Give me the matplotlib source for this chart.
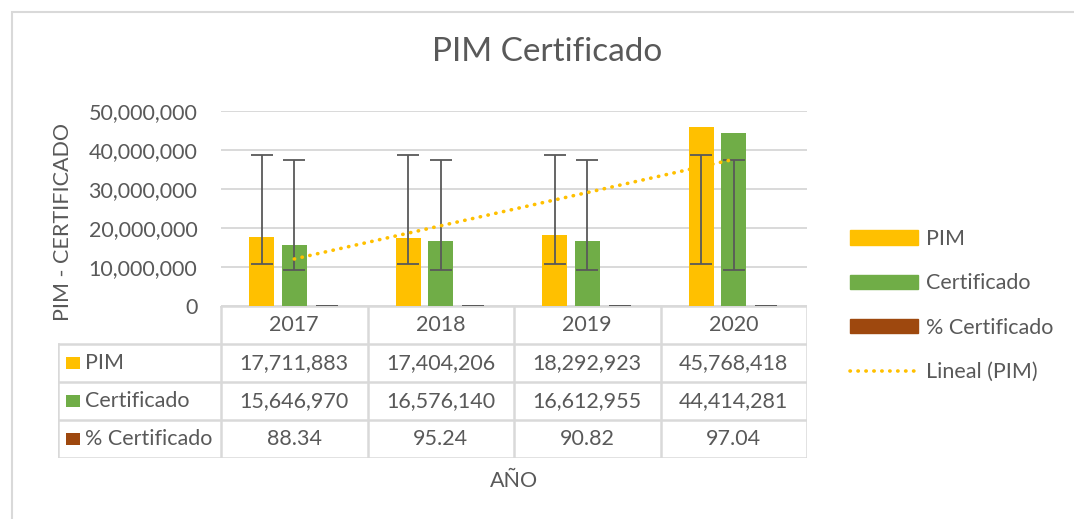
import numpy as np
import matplotlib
matplotlib.use("Agg")
import matplotlib.pyplot as plt
from matplotlib.patches import Rectangle, Patch
from matplotlib.lines import Line2D
from matplotlib.ticker import FuncFormatter

# Data
years = ["2017", "2018", "2019", "2020"]
pim = [17711883, 17404206, 18292923, 45768418]
certificado = [15646970, 16576140, 16612955, 44414281]
pct_certificado = [88.34, 95.24, 90.82, 97.04]
series_names = ["PIM", "Certificado", "% Certificado"]
pct_labels = ["88.34", "95.24", "90.82", "97.04"]

COLORS = ["#FFC000", "#70AD47", "#9E480E"]
TXT = "#595959"
GRID = "#D9D9D9"
FONT = "Lato"
DOTS = (0, (0.1, 2.1))

W, H = 1074, 519
plt.rcParams["font.family"] = [FONT, "DejaVu Sans"]


def fx(x):
    return x / W


def fy(y):
    return 1 - y / H


fig = plt.figure(figsize=(W / 100, H / 100), dpi=100)

# outer chart frame (cut off on right and bottom in the reference)
fig.patches.append(Rectangle((fx(12), -0.1), 1.2, fy(12) + 0.1, transform=fig.transFigure,
                             fill=False, edgecolor=GRID, lw=1.5))

# main plot area
PL, PR, PT, PB = 221, 807, 110.7, 306
ax = fig.add_axes([fx(PL), fy(PB), (PR - PL) / W, (PB - PT) / H])
x = np.arange(len(years))
bw = 0.173
off = 0.222
all_series = [pim, certificado, pct_certificado]
for i, vals in enumerate(all_series):
    xs = x + (i - 1) * off
    ax.bar(xs, vals, width=bw, color=COLORS[i], linewidth=0, zorder=3)
    # standard-deviation error bars centred on the series mean (Excel style)
    arr = np.array(vals, dtype=float)
    ax.errorbar(xs, np.full(len(xs), arr.mean()), yerr=arr.std(ddof=1), fmt="none",
                ecolor=TXT, elinewidth=1.3, capsize=8, capthick=1.3, zorder=4)

# linear trendline of PIM
coef = np.polyfit(x + 1, pim, 1)
ax.plot(x, np.polyval(coef, x + 1), color=COLORS[0], lw=2.6,
        linestyle=DOTS, dash_capstyle="round", zorder=5)

ax.set_xlim(-0.5, 3.5)
ax.set_ylim(0, 50_000_000)
ax.set_yticks(np.arange(0, 50_000_001, 10_000_000))
ax.yaxis.set_major_formatter(FuncFormatter(lambda v, p: f"{v:,.0f}"))
ax.tick_params(axis="y", length=0, pad=17, labelsize=15.5, labelcolor=TXT)
ax.set_xticks([])
ax.grid(axis="y", color=GRID, lw=1.4, zorder=0)
for s in ax.spines.values():
    s.set_visible(False)

# data table below the plot
TL = 58
TB = 458
tax = fig.add_axes([fx(TL), fy(TB), (PR - TL) / W, (TB - PB) / H])
cw = (PR - PL) / 4
left_col = (PL - TL) / cw
tax.set_xlim(-0.5 - left_col, 3.5)
tax.set_ylim(4, 0)
tax.axis("off")
lw_t = 1.8
tax.plot([-0.5, 3.5], [0, 0], color=GRID, lw=lw_t)
for r in range(1, 5):
    tax.plot([-0.5 - left_col, 3.5], [r, r], color=GRID, lw=lw_t)
tax.plot([-0.5 - left_col] * 2, [1, 4], color=GRID, lw=lw_t)
for c in range(5):
    tax.plot([c - 0.5] * 2, [0, 4], color=GRID, lw=lw_t)

for j, yr in enumerate(years):
    tax.text(j, 0.5, yr, ha="center", va="center", fontsize=15.5, color=TXT)
rows = [[f"{v:,}" for v in pim], [f"{v:,}" for v in certificado], pct_labels]
kw = (80 - 66) / cw
for i, name in enumerate(series_names):
    r = i + 1.5
    tax.add_patch(Rectangle((-0.5 - left_col + (66 - TL) / cw, r - 0.17), kw, 0.34,
                            color=COLORS[i], lw=0))
    tax.text(-0.5 - left_col + (85 - TL) / cw, r, name, ha="left", va="center",
             fontsize=15.5, color=TXT)
    for j in range(len(years)):
        tax.text(j, r, rows[i][j], ha="center", va="center", fontsize=15.5, color=TXT)

# titles
fig.text(fx(547), fy(52), "PIM Certificado", ha="center", va="center", fontsize=24, color=TXT)
fig.text(fx(63), fy(222), "PIM - CERTIFICADO", ha="center", va="center", rotation=90,
         fontsize=15.5, color=TXT)
fig.text(fx(514), fy(481), "AÑO", ha="center", va="center", fontsize=15.5, color=TXT)

# legend
handles = [Patch(color=COLORS[0]), Patch(color=COLORS[1]), Patch(color=COLORS[2]),
           Line2D([], [], color=COLORS[0], lw=2.6, linestyle=DOTS, dash_capstyle="round")]
labels = series_names + ["Lineal (PIM)"]
fig.legend(handles, labels, loc="center left", bbox_to_anchor=(fx(850), fy(305.5)),
           frameon=False, fontsize=15.5, labelcolor=TXT, handlelength=3.15, handleheight=0.65,
           handletextpad=0.4, labelspacing=1.13, borderpad=0, borderaxespad=0)

fig.savefig("out.png", dpi=100)
